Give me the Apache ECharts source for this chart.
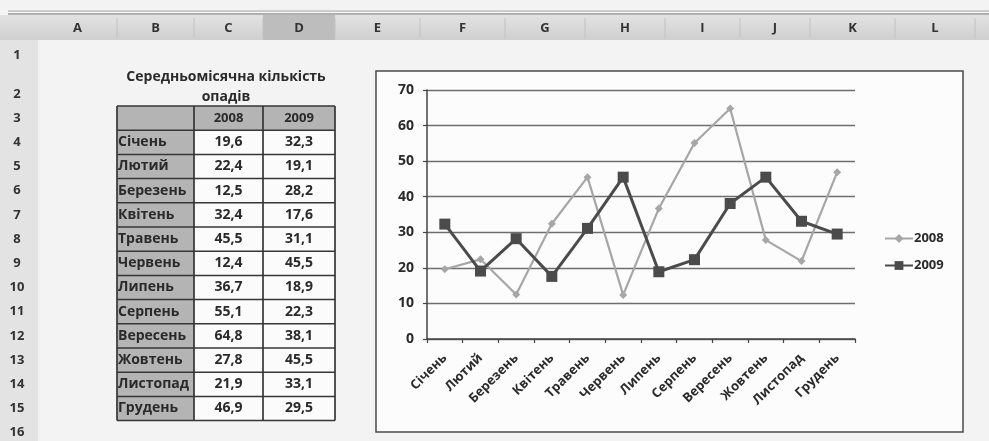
<!DOCTYPE html>
<html>
<head>
<meta charset="utf-8">
<title>Середньомісячна кількість опадів</title>
<script src="https://cdn.jsdelivr.net/npm/echarts@6/dist/echarts.min.js"></script>
<style>
  html, body { margin: 0; padding: 0; background: #f4f4f4; }
  #main { width: 989px; height: 441px; }
</style>
</head>
<body>
<div id="main"></div>
<script>
// дані таблиці
const months = ['Січень', 'Лютий', 'Березень', 'Квітень', 'Травень', 'Червень',
                'Липень', 'Серпень', 'Вересень', 'Жовтень', 'Листопад', 'Грудень'];
const years = ['2008', '2009'];
const rain2008 = [19.6, 22.4, 12.5, 32.4, 45.5, 12.4, 36.7, 55.1, 64.8, 27.8, 21.9, 46.9];
const rain2009 = [32.3, 19.1, 28.2, 17.6, 31.1, 45.5, 18.9, 22.3, 38.1, 45.5, 33.1, 29.5];
const tableTitle = ['Середньомісячна кількість', 'опадів'];
const colLetters = ['A', 'B', 'C', 'D', 'E', 'F', 'G', 'H', 'I', 'J', 'K', 'L'];
const rowNumbers = [1, 2, 3, 4, 5, 6, 7, 8, 9, 10, 11, 12, 13, 14, 15, 16];

const FONT = 'Open Sans';
const TXT = '#2a2a2a';

// розмітка аркуша
const colX = [38, 117, 194, 263, 335, 420, 505, 585, 665, 740, 810, 895, 975];
const tableTop = 106, rowH = 24.2;
const rowY = (r) => r === 1 ? 55 : (r === 2 ? 94 : tableTop + (r - 3 + 0.5) * rowH);
const fmt = (v) => v.toFixed(1).replace('.', ',');
const bold = (px) => 'bold ' + px + 'px "' + FONT + '"';

const g = [];

// верхня смуга з заголовками стовпців
g.push({ type: 'rect', shape: { x: 0, y: 0, width: 989, height: 441 }, style: { fill: '#f3f3f3' }, silent: true });
g.push({ type: 'line', shape: { x1: 8, y1: 11, x2: 989, y2: 11 }, style: { stroke: '#a5a5a5', lineWidth: 1 } });
g.push({ type: 'line', shape: { x1: 8, y1: 14, x2: 989, y2: 14 }, style: { stroke: '#9a9a9a', lineWidth: 1.5 } });
g.push({ type: 'rect', shape: { x: 0, y: 15, width: 989, height: 25 },
  style: { fill: new echarts.graphic.LinearGradient(0, 0, 0, 1, [{ offset: 0, color: '#e2e2e2' }, { offset: 1, color: '#cfcfcf' }]) } });
g.push({ type: 'rect', shape: { x: 263, y: 15, width: 72, height: 25 }, style: { fill: '#bdbdbd' } });
g.push({ type: 'rect', shape: { x: 0, y: 40, width: 38, height: 401 }, style: { fill: '#e3e3e3' } });
colLetters.forEach((c, i) => {
  g.push({ type: 'text', x: (colX[i] + colX[i + 1]) / 2, y: 28,
    style: { text: c, fill: '#333', font: bold(13), align: 'center', verticalAlign: 'middle' } });
  g.push({ type: 'line', shape: { x1: colX[i + 1], y1: 18, x2: colX[i + 1], y2: 38 }, style: { stroke: '#c2c2c2', lineWidth: 1 } });
});
rowNumbers.forEach((r) => {
  g.push({ type: 'text', x: 17, y: rowY(r),
    style: { text: String(r), fill: '#333', font: bold(13), align: 'center', verticalAlign: 'middle' } });
});

// заголовок таблиці
const tCx = (colX[1] + colX[4]) / 2;
g.push({ type: 'text', x: tCx, y: 77, style: { text: tableTitle[0], fill: TXT, font: bold(14), align: 'center', verticalAlign: 'middle' } });
g.push({ type: 'text', x: tCx, y: 97, style: { text: tableTitle[1], fill: TXT, font: bold(14), align: 'center', verticalAlign: 'middle' } });

// таблиця
const cellFill = '#b4b4b4';
const nRows = months.length + 1;
g.push({ type: 'rect', shape: { x: colX[1], y: tableTop, width: colX[4] - colX[1], height: rowH }, style: { fill: cellFill } });
g.push({ type: 'rect', shape: { x: colX[1], y: tableTop, width: colX[2] - colX[1], height: nRows * rowH }, style: { fill: cellFill } });
g.push({ type: 'rect', shape: { x: colX[2], y: tableTop + rowH, width: colX[4] - colX[2], height: months.length * rowH }, style: { fill: '#fbfbfb' } });
for (let i = 0; i <= nRows; i++) {
  g.push({ type: 'line', shape: { x1: colX[1], y1: tableTop + i * rowH, x2: colX[4], y2: tableTop + i * rowH }, style: { stroke: '#363636', lineWidth: 1.5 } });
}
[1, 2, 3, 4].forEach((c) => {
  g.push({ type: 'line', shape: { x1: colX[c], y1: tableTop, x2: colX[c], y2: tableTop + nRows * rowH }, style: { stroke: '#363636', lineWidth: 1.7 } });
});
years.forEach((y, j) => {
  g.push({ type: 'text', x: (colX[2 + j] + colX[3 + j]) / 2, y: rowY(3),
    style: { text: y, fill: TXT, font: bold(13), align: 'center', verticalAlign: 'middle' } });
});
months.forEach((m, i) => {
  const y = rowY(4 + i);
  g.push({ type: 'text', x: colX[1] + 1, y: y, style: { text: m, fill: TXT, font: bold(14), align: 'left', verticalAlign: 'middle' } });
  g.push({ type: 'text', x: (colX[2] + colX[3]) / 2, y: y, style: { text: fmt(rain2008[i]), fill: TXT, font: bold(14), align: 'center', verticalAlign: 'middle' } });
  g.push({ type: 'text', x: (colX[3] + colX[4]) / 2, y: y, style: { text: fmt(rain2009[i]), fill: TXT, font: bold(14), align: 'center', verticalAlign: 'middle' } });
});

// рамка діаграми
g.push({ type: 'rect', shape: { x: 376, y: 71, width: 587, height: 361 }, style: { fill: '#fcfcfc', stroke: '#4a4a4a', lineWidth: 1.5 } });

const chart = echarts.init(document.getElementById('main'));
const option = {
  animation: false,
  backgroundColor: 'transparent',
  textStyle: { fontFamily: FONT },
  graphic: { elements: g },
  grid: { left: 427, top: 90, right: 134, bottom: 102 },
  legend: {
    orient: 'vertical',
    left: 879,
    top: 227,
    itemGap: 14,
    itemWidth: 28,
    itemHeight: 11,
    textStyle: { color: TXT, fontWeight: 'bold', fontSize: 13, padding: [0, 0, 0, -4] },
    data: years
  },
  xAxis: {
    type: 'category',
    data: months,
    boundaryGap: true,
    axisLine: { lineStyle: { color: '#444', width: 1.5 } },
    axisTick: { show: true, length: 4, lineStyle: { color: '#444', width: 1.2 } },
    axisLabel: { rotate: 45, color: TXT, fontWeight: 'bold', fontSize: 13, margin: 17, interval: 0 }
  },
  yAxis: {
    type: 'value',
    min: 0,
    max: 70,
    interval: 10,
    axisLine: { show: true, lineStyle: { color: '#444', width: 1.5 } },
    axisTick: { show: true, length: 4, lineStyle: { color: '#444', width: 1.2 } },
    axisLabel: { color: TXT, fontWeight: 'bold', fontSize: 14, margin: 13 },
    splitLine: { lineStyle: { color: '#6e6e6e', width: 1.3 } }
  },
  series: [
    {
      name: years[0],
      type: 'line',
      data: rain2008,
      symbol: 'diamond',
      symbolSize: 8,
      itemStyle: { color: '#a6a6a6' },
      lineStyle: { color: '#a6a6a6', width: 2.2 },
      z: 3
    },
    {
      name: years[1],
      type: 'line',
      data: rain2009,
      symbol: 'rect',
      symbolSize: 11,
      itemStyle: { color: '#4b4b4b' },
      lineStyle: { color: '#4b4b4b', width: 3 },
      z: 4
    }
  ]
};
chart.setOption(option);
window.addEventListener('resize', function () { chart.resize(); });
</script>
</body>
</html>
